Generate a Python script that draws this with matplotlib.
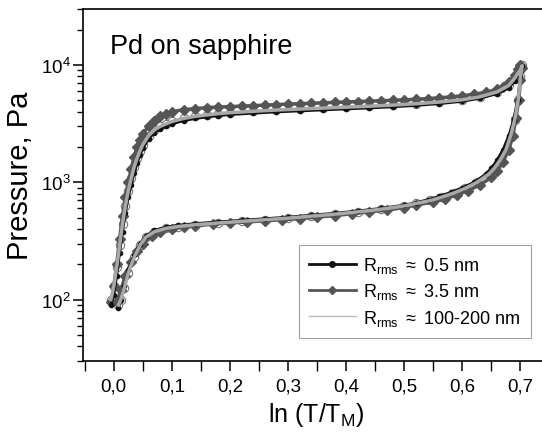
import matplotlib
matplotlib.use("Agg")
import matplotlib.pyplot as plt
from matplotlib.lines import Line2D
from matplotlib.ticker import FuncFormatter, LogLocator, MultipleLocator

plt.rcParams['font.family'] = ['Liberation Sans', 'DejaVu Sans']
plt.rcParams['mathtext.fontset'] = 'custom'
plt.rcParams['mathtext.rm'] = 'Liberation Sans'
plt.rcParams['mathtext.it'] = 'Liberation Sans:italic'

# ---- data: R_rms ~ 3.5 nm (dark gray, diamonds) ----
x_35 = [-0.005, 0.0, 0.005, 0.01, 0.015, 0.02, 0.025, 0.03, 0.035, 0.04, 0.045, 0.05,
        0.06, 0.07, 0.08, 0.09, 0.10, 0.12, 0.14, 0.16, 0.18, 0.20, 0.22, 0.24, 0.26,
        0.28, 0.30, 0.32, 0.34, 0.36, 0.38, 0.40, 0.42, 0.44, 0.46, 0.48, 0.50, 0.52,
        0.54, 0.56, 0.58, 0.60, 0.62, 0.64, 0.66, 0.67, 0.68, 0.69, 0.695, 0.70,
        0.702, 0.70, 0.697, 0.692, 0.687, 0.68, 0.67, 0.66, 0.65, 0.63, 0.61, 0.59,
        0.57, 0.55, 0.52, 0.50, 0.47, 0.44, 0.41, 0.38, 0.35, 0.32, 0.29, 0.26, 0.23,
        0.20, 0.17, 0.14, 0.12, 0.10, 0.08, 0.065, 0.05, 0.04, 0.03, 0.02, 0.012, 0.005]
p_35 = [95, 130, 200, 330, 520, 750, 1000, 1300, 1650, 2000, 2300, 2600,
        3000, 3350, 3650, 3850, 4000, 4150, 4250, 4330, 4380, 4420, 4460, 4500, 4550,
        4600, 4640, 4680, 4720, 4760, 4800, 4840, 4880, 4920, 4960, 5000, 5050, 5100,
        5170, 5250, 5350, 5470, 5630, 5850, 6200, 6550, 7150, 8200, 9200, 10000,
        9500, 7500, 5000, 3500, 2500, 1900, 1500, 1250, 1100, 950, 850, 780,
        720, 680, 640, 610, 580, 560, 540, 520, 505, 490, 480, 470, 460,
        450, 440, 425, 415, 400, 380, 350, 300, 260, 210, 160, 120, 95]

# ---- data: R_rms ~ 0.5 nm (black, circles) ----
x_05 = [-0.005, 0.0, 0.005, 0.01, 0.015, 0.02, 0.025, 0.03, 0.035, 0.04, 0.045, 0.05,
        0.06, 0.07, 0.08, 0.09, 0.10, 0.12, 0.14, 0.16, 0.18, 0.20, 0.24, 0.28, 0.32,
        0.36, 0.40, 0.44, 0.48, 0.52, 0.56, 0.60, 0.63, 0.66, 0.68, 0.69, 0.70, 0.703,
        0.70, 0.695, 0.688, 0.68, 0.67, 0.66, 0.65, 0.64, 0.62, 0.60, 0.58, 0.56,
        0.54, 0.52, 0.50, 0.46, 0.42, 0.38, 0.34, 0.30, 0.26, 0.22, 0.18, 0.14, 0.11,
        0.09, 0.07, 0.055, 0.045, 0.035, 0.025, 0.018, 0.012, 0.008]
p_05 = [90, 110, 160, 250, 380, 550, 750, 950, 1200, 1450, 1700, 1950,
        2350, 2650, 2850, 3000, 3150, 3350, 3500, 3600, 3700, 3780, 3880, 3980, 4060,
        4140, 4220, 4300, 4400, 4520, 4680, 4900, 5200, 5700, 6400, 7300, 9000, 9800,
        8000, 5000, 3400, 2500, 1900, 1550, 1320, 1170, 1000, 900, 820, 760,
        710, 670, 640, 600, 570, 545, 525, 505, 490, 475, 460, 445, 430,
        415, 390, 350, 300, 240, 180, 130, 100, 85]

# ---- data: R_rms ~ 100-200 nm (light gray) ----
x_100 = [-0.005, 0.0, 0.005, 0.01, 0.015, 0.02, 0.025, 0.03, 0.035, 0.04, 0.045, 0.05,
         0.06, 0.07, 0.08, 0.09, 0.10, 0.12, 0.14, 0.16, 0.18, 0.20, 0.24, 0.28, 0.32,
         0.36, 0.40, 0.44, 0.48, 0.52, 0.56, 0.60, 0.63, 0.66, 0.68, 0.69, 0.70, 0.703,
         0.70, 0.696, 0.69, 0.683, 0.675, 0.665, 0.655, 0.645, 0.625, 0.605, 0.585,
         0.565, 0.545, 0.52, 0.50, 0.46, 0.42, 0.38, 0.34, 0.30, 0.26, 0.22, 0.18,
         0.14, 0.11, 0.09, 0.07, 0.055, 0.045, 0.035, 0.025, 0.018, 0.012, 0.008]
p_100 = [100, 130, 190, 290, 440, 630, 850, 1080, 1350, 1600, 1850, 2100,
         2500, 2800, 3000, 3150, 3300, 3500, 3650, 3750, 3850, 3920, 4030, 4130, 4210,
         4290, 4370, 4450, 4550, 4670, 4830, 5050, 5350, 5900, 6700, 7700, 9200, 9900,
         8000, 5000, 3400, 2500, 1900, 1550, 1320, 1170, 1000, 890, 810,
         750, 700, 660, 630, 590, 560, 535, 515, 495, 480, 465, 450,
         435, 420, 405, 380, 340, 290, 230, 170, 125, 100, 90]

labels = [r'R$_{\mathrm{rms}}$ $\approx$ 0.5 nm',
          r'R$_{\mathrm{rms}}$ $\approx$ 3.5 nm',
          r'R$_{\mathrm{rms}}$ $\approx$ 100-200 nm']
xticks = [0.0, 0.1, 0.2, 0.3, 0.4, 0.5, 0.6, 0.7]

W, H = 542, 439
fig = plt.figure(figsize=(W / 100, H / 100), dpi=100)
left, top_px, bot_px = 83, 10, 362
xlo, xhi = -0.053, 0.75
px_per_unit = 581.0
ax = fig.add_axes([left / W, 1 - bot_px / H, (xhi - xlo) * px_per_unit / W, (bot_px - top_px) / H])

# open markers (underlying scatter of light series)
ax.plot(x_100, p_100, ls='none', marker='o', ms=6, mfc='white', mec='#777777', mew=0.8, zorder=1)
ax.plot(x_35, p_35, color='#555555', lw=2.5, marker='D', ms=5, mfc='#555555', mec='#555555', zorder=2)
ax.plot(x_05, p_05, color='#111111', lw=2.0, marker='o', ms=3, mfc='#111111', mec='#111111', zorder=3)
ax.plot(x_100, p_100, color='#a8a8a8', lw=2.5, zorder=4)

ax.set_yscale('log')
ax.set_xlim(xlo, xhi)
ax.set_ylim(30, 30000)
ax.set_xticks(xticks)
ax.xaxis.set_minor_locator(MultipleLocator(0.05))
ax.xaxis.set_major_formatter(FuncFormatter(lambda v, p: f"{v:.1f}".replace('.', ',')))
ax.yaxis.set_major_locator(LogLocator(base=10, numticks=10))
ax.yaxis.set_minor_locator(LogLocator(base=10, subs=range(2, 10), numticks=20))

for s in ['left', 'top', 'bottom', 'right']:
    ax.spines[s].set_linewidth(1.2)
ax.tick_params(axis='both', which='major', direction='out', length=7, width=1.1, labelsize=13.5)
ax.tick_params(axis='x', which='minor', direction='out', length=7, width=1.0)
ax.tick_params(axis='y', which='minor', direction='out', length=4, width=1.0)
ax.tick_params(axis='x', which='major', pad=5)
ax.tick_params(axis='y', which='major', pad=2)

ax.set_xlabel(r'ln (T/T$_{\mathrm{M}}$)', fontsize=18, labelpad=4)
ax.set_ylabel('Pressure, Pa', fontsize=21)
ax.yaxis.set_label_coords(-0.105, 0.53)

fig.text(110 / W, 1 - 54 / H, 'Pd on sapphire', fontsize=19.5, va='baseline', ha='left')

handles = [Line2D([], [], color='#111111', lw=2.0, marker='o', ms=4),
           Line2D([], [], color='#555555', lw=2.0, marker='D', ms=4),
           Line2D([], [], color='#bbbbbb', lw=1.0)]
leg = ax.legend(handles, labels, loc='upper left', bbox_to_anchor=(299 / W, 1 - 246 / H),
                bbox_transform=fig.transFigure, fontsize=13, frameon=True, fancybox=False,
                edgecolor='#888888', numpoints=1, handlelength=2.6, borderpad=0.55,
                labelspacing=0.35, handletextpad=0.4, borderaxespad=0)
leg.get_frame().set_linewidth(0.8)

fig.savefig('out.png', dpi=100)
